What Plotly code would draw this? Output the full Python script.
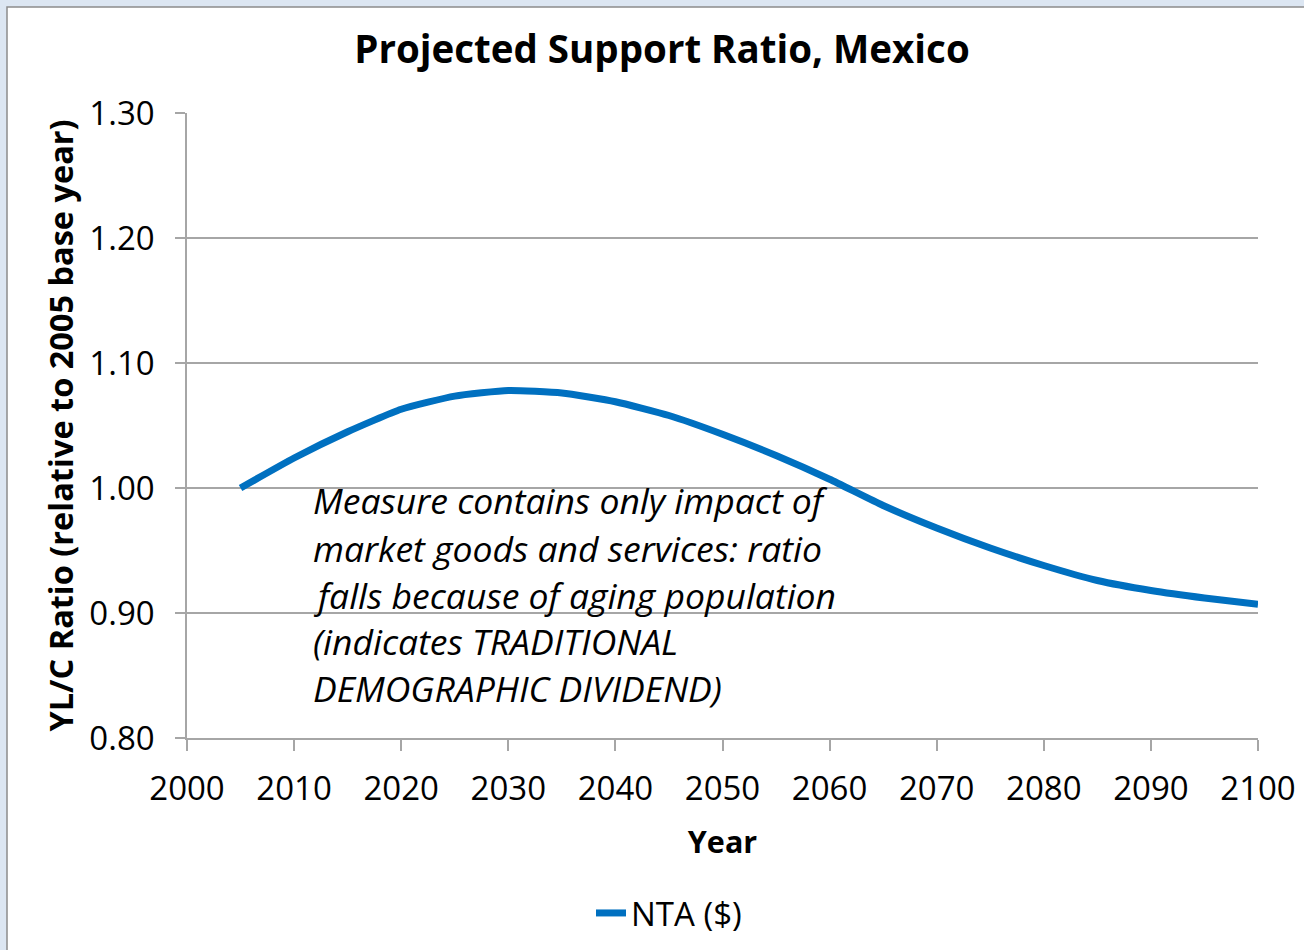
import plotly.graph_objects as go

# ---- data ----
years = [2005, 2010, 2015, 2020, 2025, 2030, 2035, 2040, 2045, 2050,
         2055, 2060, 2065, 2070, 2075, 2080, 2085, 2090, 2095, 2100]
nta_ratio = [1.000, 1.024, 1.045, 1.063, 1.0735, 1.078, 1.076, 1.069, 1.058, 1.043,
             1.026, 1.007, 0.986, 0.968, 0.952, 0.938, 0.926, 0.918, 0.912, 0.907]
series_name = "NTA ($)"
x_ticks = [2000, 2010, 2020, 2030, 2040, 2050, 2060, 2070, 2080, 2090, 2100]
y_ticks = [0.80, 0.90, 1.00, 1.10, 1.20, 1.30]
y_tick_labels = ["0.80", "0.90", "1.00", "1.10", "1.20", "1.30"]
title_text = "Projected Support Ratio, Mexico"
x_title = "Year"
y_title = "YL/C Ratio (relative to 2005 base year)"
note_lines = [
    "Measure contains only impact of",
    "market goods and services: ratio",
    "falls because of aging population",
    "(indicates TRADITIONAL",
    "DEMOGRAPHIC DIVIDEND)",
]

W, H = 1304, 950
L, R, T, B = 187, 1258, 113, 738
FONT = "Open Sans"
GRID = "#a6a6a6"

def px_to_paper_x(px):
    return (px - L) / (R - L)

def px_to_paper_y(py):
    return (B - py) / (B - T)

fig = go.Figure()
fig.add_trace(go.Scatter(
    x=years, y=nta_ratio, mode="lines", name=series_name,
    line=dict(color="#0070c0", width=7, shape="spline", smoothing=0.5),
))

fig.update_layout(
    width=W, height=H,
    margin=dict(l=L, r=W - R, t=T, b=H - B, autoexpand=False),
    paper_bgcolor="#dce6f2",
    plot_bgcolor="white",
    font=dict(family=FONT, color="black"),
    title=dict(text="<b>" + title_text + "</b>", x=662 / W, xanchor="center",
               y=1 - 50 / H, yanchor="middle", font=dict(size=38.5, family=FONT)),
    showlegend=True,
    legend=dict(x=px_to_paper_x(669), xanchor="center", y=px_to_paper_y(913),
                yanchor="middle", orientation="h", font=dict(size=33, family=FONT),
                bgcolor="rgba(0,0,0,0)"),
    xaxis=dict(range=[2000, 2100], tickvals=x_ticks, ticktext=[str(v) for v in x_ticks],
               showgrid=False, zeroline=False, showline=True, linecolor=GRID, linewidth=1.5,
               ticks="outside", ticklen=11, tickcolor=GRID, tickwidth=1.5,
               tickfont=dict(size=33, family=FONT), ticklabelstandoff=10,
               title=dict(text="<b>" + x_title + "</b>", font=dict(size=30.5, family=FONT),
                          standoff=22)),
    yaxis=dict(range=[0.80, 1.30], tickvals=y_ticks, ticktext=y_tick_labels,
               showgrid=True, gridcolor=GRID, gridwidth=1.5, zeroline=False,
               showline=True, linecolor=GRID, linewidth=1.5,
               ticks="outside", ticklen=10, tickcolor=GRID, tickwidth=1.5,
               tickfont=dict(size=33, family=FONT), ticklabelstandoff=14,
               title=dict(text="<b>" + y_title + "</b>", font=dict(size=32.5, family=FONT),
                          standoff=6)),
)

# chart box (white area with grey border)
fig.add_shape(type="rect", xref="paper", yref="paper", layer="below",
              x0=px_to_paper_x(7), x1=px_to_paper_x(1320),
              y0=px_to_paper_y(970), y1=px_to_paper_y(7),
              fillcolor="white", line=dict(color="#8c8c8c", width=1.5))

# note text
line_centers = [500, 548, 595, 641, 688]
for txt, yc in zip(note_lines, line_centers):
    fig.add_annotation(text="<i>" + txt + "</i>", xref="paper", yref="paper",
                       x=px_to_paper_x(311), xanchor="left",
                       y=px_to_paper_y(yc), yanchor="middle", showarrow=False,
                       font=dict(size=35.5, family=FONT, color="black"))

fig.write_html("out.html", config={"displayModeBar": False},
               post_script="document.body.style.margin='0px';")
